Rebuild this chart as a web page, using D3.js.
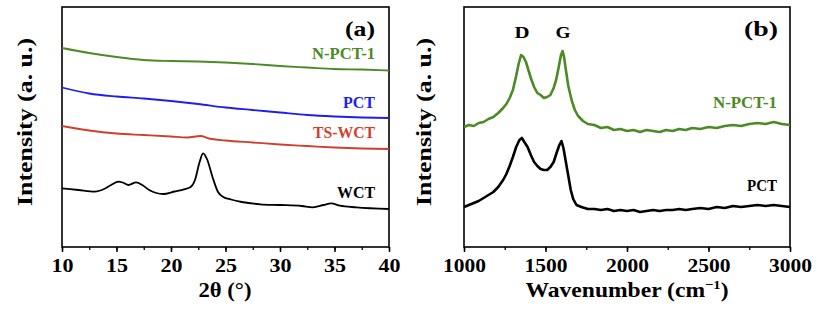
<!DOCTYPE html>
<html>
<head>
<meta charset="utf-8">
<script src="https://cdn.jsdelivr.net/npm/d3@7"></script>
<style>
  body { margin: 0; background: #fff; }
  svg text { font-family: "Liberation Serif", "Times New Roman", Times, serif; font-weight: bold; }
</style>
</head>
<body>
<svg width="820" height="309"></svg>
<script>
// ---- data (intensity in arbitrary units) ----
// (a) XRD
var xrdAngle = [10, 12.5, 15, 17.5, 20, 22.5, 25, 27.5, 30, 32.5, 35, 37.5, 40];
var npct1Xrd = [199, 194, 190, 187, 186, 185.5, 184.5, 183, 181, 179.5, 178, 177.5, 176.5];
var pctXrd = [159.5, 153.5, 150.5, 148.5, 146, 143, 139.5, 137, 134.5, 132, 130.5, 129.5, 129];

var tswctAngle = [10, 12.5, 15, 17.5, 20, 21.5, 22.7, 23.5, 25, 27.5, 30, 32.5, 35, 37.5, 40];
var tswctXrd = [121, 116.5, 113.5, 112, 110.5, 109.5, 111, 108.5, 106.5, 104.5, 102.5, 101, 99.5, 98.5, 98];

var wctAngle = [10, 11.5, 13, 14, 14.5, 15.2, 15.6, 16.1, 16.8, 17.4, 18, 19.3, 20.3, 21.2, 21.8, 22.2,
    22.6, 22.94, 23.3, 23.8, 24.3, 24.8, 25.5, 26.5, 28.2, 30, 32, 33, 34, 34.7, 35.5, 37, 40];
var wctXrd = [58.7, 57, 55.3, 58.7, 62, 65.3, 64.3, 62, 64.7, 61.7, 57, 53, 55.5, 57.7, 60, 67,
    84, 93.7, 88, 70.3, 55.3, 50, 47.5, 45, 42.7, 42, 41, 39.7, 42, 43.7, 41.3, 39.7, 38];

// (b) Raman
var ramanShift = [1000, 1030, 1060, 1090, 1120, 1150, 1180, 1210, 1240, 1260, 1280, 1300, 1320, 1335, 1350,
    1365, 1380, 1395, 1410, 1430, 1450, 1470, 1490, 1510, 1530, 1550, 1565, 1580, 1595, 1605, 1615,
    1625, 1640, 1660, 1680, 1700, 1730, 1760, 1800, 1840, 1880, 1920, 1960, 2000, 2040, 2080, 2120,
    2160, 2200, 2240, 2280, 2320, 2360, 2400, 2450, 2500, 2550, 2600, 2650, 2700, 2750, 2800, 2850,
    2900, 2950, 3000];
var npct1Raman = [120, 122, 121, 124, 125, 128, 130, 134, 139, 143, 149, 157, 171, 183, 192,
    190, 185, 177, 169, 160, 154, 152, 149, 150, 152, 159, 167, 179, 192, 196, 189,
    177, 161, 147, 137, 131, 126, 123, 122, 119, 120, 117, 118, 116, 117, 115, 117,
    116, 115, 117, 116, 118, 117, 119, 118, 120, 119, 121, 122, 121, 123, 124, 123,
    125, 123, 122];

var pctShift = [1000, 1030, 1060, 1090, 1120, 1150, 1180, 1210, 1240, 1260, 1280, 1300, 1320, 1340, 1355,
    1370, 1390, 1410, 1430, 1450, 1470, 1490, 1510, 1530, 1550, 1570, 1585, 1598, 1610, 1625,
    1640, 1655, 1670, 1690, 1720, 1760, 1800, 1840, 1880, 1920, 1960, 2000, 2040, 2080, 2120,
    2160, 2200, 2240, 2280, 2320, 2360, 2400, 2450, 2500, 2550, 2600, 2650, 2700, 2750, 2800,
    2850, 2900, 2950, 3000];
var pctRaman = [40, 42, 44, 46, 49, 52, 55, 60, 67, 73, 81, 90, 100, 107, 109,
    105, 100, 92, 85, 81, 78, 77, 77, 80, 85, 95, 102, 106, 99, 85,
    71, 57, 48, 42, 40, 38, 38, 37, 38, 36, 37, 36, 37, 35, 36,
    37, 36, 37, 37, 38, 37, 38, 39, 38, 40, 39, 41, 40, 41, 42,
    41, 42, 41, 40];

var xrdTicks = [10, 15, 20, 25, 30, 35, 40];
var ramanTicks = [1000, 1500, 2000, 2500, 3000];

var svg = d3.select('svg');
var green = '#4b8a24', blue = '#1e1ef0', red = '#cf3f2c';

// panel layout
var panelA = {l: 62, r: 389, t: 7, b: 247};
var panelB = {l: 464, r: 790, t: 7, b: 247};

function zip(xs, ys) {
    return xs.map(function(x, i) { return [x, ys[i]]; });
}

function label(g, x, y, txt, size, len, color, anchor) {
    return g.append('text')
        .attr('x', x)
        .attr('y', y)
        .attr('font-size', size)
        .attr('fill', color || '#000')
        .attr('text-anchor', anchor || 'end')
        .attr('textLength', len)
        .attr('lengthAdjust', 'spacingAndGlyphs')
        .text(txt);
}

function drawPanel(p, xDomain, ticks, minorStep, tickLen) {
    var x = d3.scaleLinear().domain(xDomain).range([p.l, p.r]);
    var y = d3.scaleLinear().domain([0, 240]).range([p.b, p.t]);

    var minor = d3.range(xDomain[0], xDomain[1] + minorStep / 2, minorStep);
    svg.append('g')
        .attr('transform', 'translate(0,' + p.b + ')')
        .call(d3.axisBottom(x).tickValues(minor).tickSize(3).tickFormat(''))
        .call(function(g) { g.select('.domain').remove(); })
        .selectAll('line').attr('stroke', '#000').attr('stroke-width', 1.3);

    var ax = svg.append('g')
        .attr('transform', 'translate(0,' + p.b + ')')
        .call(d3.axisBottom(x).tickValues(ticks).tickSize(5).tickFormat(d3.format('d')));
    ax.select('.domain').remove();
    ax.selectAll('line').attr('stroke', '#000').attr('stroke-width', 1.5);
    ax.selectAll('text')
        .attr('y', 25)
        .attr('dy', null)
        .attr('font-size', 18)
        .attr('fill', '#000')
        .attr('textLength', tickLen)
        .attr('lengthAdjust', 'spacingAndGlyphs');

    svg.append('rect')
        .attr('x', p.l).attr('y', p.t)
        .attr('width', p.r - p.l).attr('height', p.b - p.t)
        .attr('fill', 'none').attr('stroke', '#000').attr('stroke-width', 1.6);

    return {x: x, y: y};
}

// ---------- (a) ----------
var sa = drawPanel(panelA, [10, 40], xrdTicks, 2.5, 22);
var lineA = d3.line()
    .x(function(d) { return sa.x(d[0]); })
    .y(function(d) { return sa.y(d[1]); })
    .curve(d3.curveMonotoneX);

[[zip(xrdAngle, npct1Xrd), green], [zip(xrdAngle, pctXrd), blue],
 [zip(tswctAngle, tswctXrd), red], [zip(wctAngle, wctXrd), '#000']].forEach(function(s) {
    svg.append('path').datum(s[0])
        .attr('d', lineA)
        .attr('fill', 'none')
        .attr('stroke', s[1])
        .attr('stroke-width', 1.8);
});

label(svg, 375, 36, '(a)', 21, 30);
label(svg, 375, 59, 'N-PCT-1', 17, 63, green);
label(svg, 375, 108, 'PCT', 17, 32, blue);
label(svg, 375, 138, 'TS-WCT', 17, 62, red);
label(svg, 375, 198, 'WCT', 17, 38);
label(svg, 225, 297, '2\u03b8 (\u00b0)', 21, 53, '#000', 'middle');

svg.append('text')
    .attr('transform', 'translate(32,122) rotate(-90)')
    .attr('text-anchor', 'middle')
    .attr('font-size', 22)
    .attr('textLength', 168)
    .attr('lengthAdjust', 'spacingAndGlyphs')
    .text('Intensity (a. u.)');

// ---------- (b) ----------
var sb = drawPanel(panelB, [1000, 3000], ramanTicks, 250, 43);
var lineB = d3.line()
    .x(function(d) { return sb.x(d[0]); })
    .y(function(d) { return sb.y(d[1]); });

[[zip(ramanShift, npct1Raman), green], [zip(pctShift, pctRaman), '#000']].forEach(function(s) {
    svg.append('path').datum(s[0])
        .attr('d', lineB)
        .attr('fill', 'none')
        .attr('stroke', s[1])
        .attr('stroke-width', 2.6)
        .attr('stroke-linejoin', 'round');
});

label(svg, 522, 38, 'D', 17, 15, '#000', 'middle');
label(svg, 563, 38, 'G', 17, 15, '#000', 'middle');
label(svg, 778, 36, '(b)', 21, 34);
label(svg, 777, 108, 'N-PCT-1', 17, 64, green);
label(svg, 777, 191, 'PCT', 17, 30);

var wn = svg.append('text')
    .attr('x', 627)
    .attr('y', 297)
    .attr('font-size', 21)
    .attr('text-anchor', 'middle')
    .attr('textLength', 203)
    .attr('lengthAdjust', 'spacingAndGlyphs');
wn.append('tspan').text('Wavenumber (cm');
wn.append('tspan').attr('dy', -8).attr('font-size', 13).text('\u22121');
wn.append('tspan').attr('dy', 8).text(')');

svg.append('text')
    .attr('transform', 'translate(431,122) rotate(-90)')
    .attr('text-anchor', 'middle')
    .attr('font-size', 22)
    .attr('textLength', 168)
    .attr('lengthAdjust', 'spacingAndGlyphs')
    .text('Intensity (a. u.)');
</script>
</body>
</html>
